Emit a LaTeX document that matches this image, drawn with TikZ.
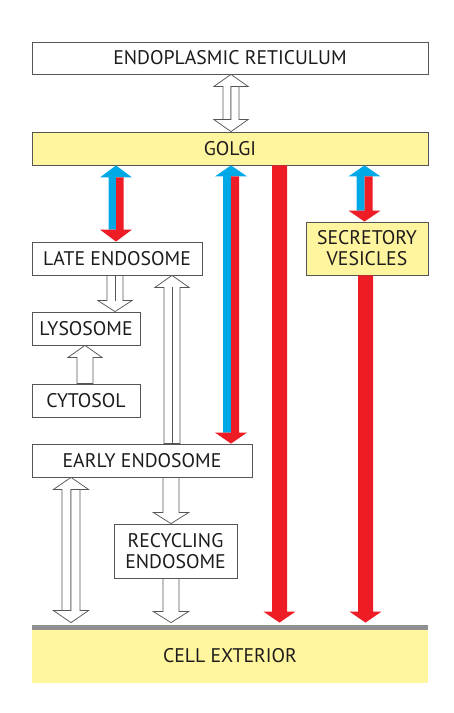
\documentclass[tikz,border=0pt]{standalone}
\usepackage{fontspec}
\setmainfont{PT Sans}
\usetikzlibrary{calc}
\definecolor{boxyellow}{HTML}{FFF59E}
\definecolor{extyellow}{HTML}{FFF69E}
\definecolor{arrred}{HTML}{EE1C25}
\definecolor{arrblue}{HTML}{00A8E6}
\definecolor{linegray}{HTML}{555555}
\definecolor{txtgray}{HTML}{1E1B1C}
\definecolor{memgray}{HTML}{909090}
\tikzset{
  box/.style={draw=linegray, line width=0.6pt, fill=white, inner sep=0pt,
    text=txtgray, font=\fontsize{14.8}{15.8}\selectfont, align=center},
  ybox/.style={box, fill=boxyellow},
  bw/.style={minimum width=#1*0.75pt},
  bh/.style={minimum height=#1*0.75pt},
  hollow/.style={draw=linegray, line width=0.55pt, fill=white, line join=miter},
  midline/.style={draw=linegray, line width=0.55pt},
  redfill/.style={fill=arrred, draw=none},
  bluefill/.style={fill=arrblue, draw=none}
}
% two-way arrow: #1 top point, #2 bottom point, #3 shaft half width, #4 head half width,
% #5 head length, #6 style of up half (left), #7 style of down half (right)
\newcommand\twowayarrow[7]{%
  \path[#6] (#1) -- ($(#1)+(#4,#5)$) -- ($(#1)+(0,#5)$) -- ($(#2)+(0,-#5)$)
    -- ($(#2)+(-#3,-#5)$) -- ($(#1)+(-#3,#5)$) -- ($(#1)+(-#4,#5)$) -- cycle;
  \path[#7] ($(#1)+(0,#5)$) -- ($(#1)+(#3,#5)$) -- ($(#2)+(#3,-#5)$) -- ($(#2)+(#4,-#5)$)
    -- (#2) -- ($(#2)+(-#4,-#5)$) -- ($(#2)+(0,-#5)$) -- cycle;
}
% downward arrow from #1 (top) to tip #2 (bottom)
\newcommand\downarrowshape[6]{%
  \path[#6] (#1) -- ($(#1)+(#3,0)$) -- ($(#2)+(#3,-#5)$) -- ($(#2)+(#4,-#5)$)
    -- (#2) -- ($(#2)+(-#4,-#5)$) -- ($(#2)+(-#3,-#5)$) -- ($(#1)+(-#3,0)$) -- cycle;
}
% upward arrow from #1 (bottom) to tip #2 (top)
\newcommand\uparrowshape[6]{%
  \path[#6] (#1) -- ($(#1)+(#3,0)$) -- ($(#2)+(#3,#5)$) -- ($(#2)+(#4,#5)$)
    -- (#2) -- ($(#2)+(-#4,#5)$) -- ($(#2)+(-#3,#5)$) -- ($(#1)+(-#3,0)$) -- cycle;
}
\begin{document}
\begin{tikzpicture}[x=0.75pt, y=-0.75pt]
\useasboundingbox (0,0) rectangle (453,713);
% boxes
\node[box, bw=396, bh=32] (er) at (230,58) {ENDOPLASMIC RETICULUM};
\node[ybox, bw=396, bh=33] (golgi) at (230,148.5) {GOLGI};
\node[box, bw=170, bh=33] (late) at (117,258.5) {LATE ENDOSOME};
\node[box, bw=108, bh=33] (lyso) at (86,328.5) {LYSOSOME};
\node[box, bw=108, bh=33] (cyto) at (86,400.5) {CYTOSOL};
\node[box, bw=220, bh=33] (early) at (142,460.5) {EARLY ENDOSOME};
\node[box, bw=123, bh=54] (recyc) at (175.5,551) {RECYCLING\\ENDOSOME};
\node[ybox, bw=122, bh=53] (secr) at (367,248.5) {SECRETORY\\VESICLES};
\node[box, draw=none, fill=extyellow, bw=396, bh=55] (ext) at (230,655.5) {CELL EXTERIOR};
\draw[memgray, line width=3.9pt] (ext.north west) -- (ext.north east);
% x positions
\coordinate (xer) at (231,0);
\coordinate (xgl) at (116,0);
\coordinate (xge) at (231,0);
\coordinate (xbig) at (279.5,0);
\coordinate (xgs) at (364.5,0);
\coordinate (xse) at (365.5,0);
\coordinate (xll) at (115,0);
\coordinate (xcl) at (85,0);
\coordinate (xel) at (172,0);
\coordinate (xex) at (71,0);
\coordinate (xrc) at (171,0);
% endpoints
\coordinate (a1) at (er.south -| xer);   \coordinate (b1) at (golgi.north -| xer);
\coordinate (a2) at (golgi.south -| xgl); \coordinate (b2) at (late.north -| xgl);
\coordinate (a3) at (golgi.south -| xge); \coordinate (b3) at (early.north -| xge);
\coordinate (a4) at (golgi.south -| xbig); \coordinate (b4) at ($(ext.north -| xbig)+(0,-5)$);
\coordinate (a5) at (golgi.south -| xgs); \coordinate (b5) at (secr.north -| xgs);
\coordinate (a6) at (secr.south -| xse);  \coordinate (b6) at ($(ext.north -| xse)+(0,-5)$);
\coordinate (a7) at (late.south -| xll);  \coordinate (b7) at (lyso.north -| xll);
\coordinate (a8) at (cyto.north -| xcl);  \coordinate (b8) at (lyso.south -| xcl);
\coordinate (a9) at (early.north -| xel); \coordinate (b9) at (late.south -| xel);
\coordinate (a10) at (early.south -| xex); \coordinate (b10) at ($(ext.north -| xex)+(0,-5)$);
\coordinate (a11) at (early.south -| xrc); \coordinate (b11) at (recyc.north -| xrc);
\coordinate (a12) at (recyc.south -| xrc); \coordinate (b12) at ($(ext.north -| xrc)+(0,-5)$);
% hollow arrows
\twowayarrow{a1}{b1}{8}{17}{12}{hollow}{hollow}
\downarrowshape{a7}{b7}{8}{17}{11}{hollow}
\draw[midline] (a7) -- ($(b7)+(0,-11)$);
\uparrowshape{a8}{b8}{8}{17}{12}{hollow}
\uparrowshape{a9}{b9}{8}{17}{12}{hollow}
\draw[midline] (a9) -- ($(b9)+(0,12)$);
\twowayarrow{a10}{b10}{9}{17.5}{12}{hollow}{hollow}
\downarrowshape{a11}{b11}{8}{17.5}{11}{hollow}
\downarrowshape{a12}{b12}{8}{17.5}{11}{hollow}
% coloured arrows
\twowayarrow{a2}{b2}{7.5}{16}{12}{bluefill}{redfill}
\twowayarrow{a3}{b3}{8}{16}{11}{bluefill}{redfill}
\twowayarrow{a5}{b5}{8}{16}{11}{bluefill}{redfill}
\downarrowshape{a4}{b4}{7.5}{16}{11}{redfill}
\downarrowshape{a6}{b6}{7.5}{16}{11}{redfill}
\end{tikzpicture}
\end{document}
